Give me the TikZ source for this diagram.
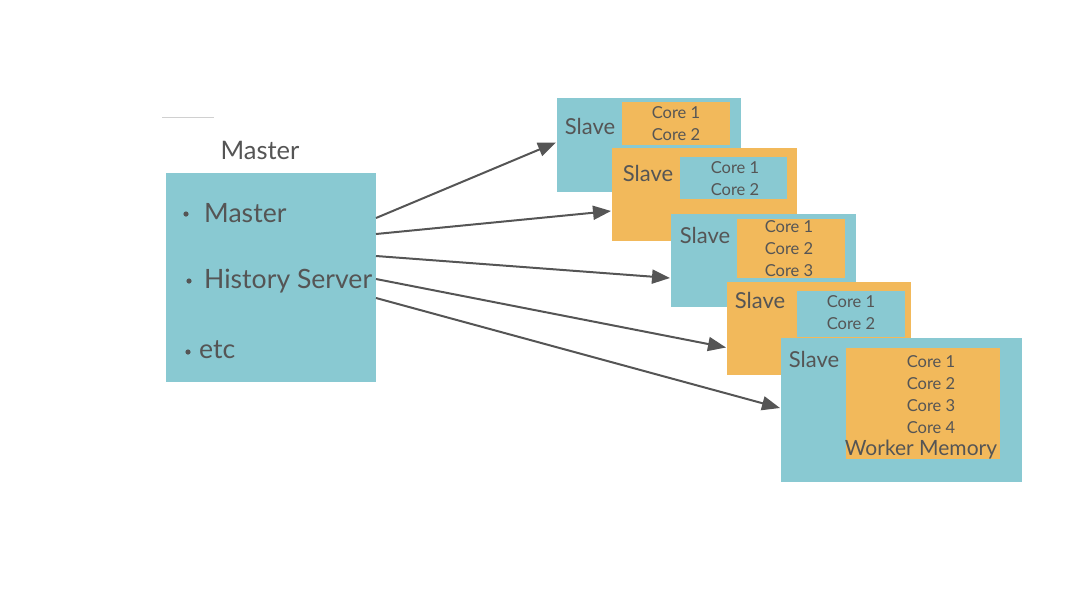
\documentclass[tikz,border=0pt]{standalone}
\usepackage{fontspec}
\setmainfont{Lato}
\usetikzlibrary{arrows.meta}
\definecolor{boxteal}{HTML}{89C9D2}
\definecolor{boxorange}{HTML}{F2B95B}
\definecolor{inkgray}{HTML}{555555}
\definecolor{rulegray}{HTML}{D0D0D0}
\begin{document}
\begin{tikzpicture}[x=1pt, y=-1pt, line join=round, >={Triangle[length=18pt,width=14pt]},
	box/.style={anchor=north west, inner sep=0pt, outer sep=0pt},
	tealbox/.style={box, fill=boxteal},
	orangebox/.style={box, fill=boxorange},
	big/.style={text=inkgray, font=\fontsize{26.6}{30}\selectfont, inner sep=0pt},
	slavelabel/.style={text=inkgray, font=\fontsize{22}{26}\selectfont, inner sep=0pt, anchor=base},
	cores/.style={text=inkgray, font=\fontsize{16.5}{22}\selectfont, inner sep=0pt, align=center},
	link/.style={->, draw=inkgray, line width=2pt}]
	\useasboundingbox (0,0) rectangle (1091,595);
	% master side
	\draw[rulegray, line width=1pt] (162,117) coordinate (r1) -- (214,117) coordinate (r2);
	\node[text=inkgray, font=\fontsize{25.5}{30}\selectfont, inner sep=0pt, anchor=base] (mtitle) at (260,159) {Master};
	\node[tealbox, minimum width=210pt, minimum height=209pt] (master) at (166,173) {};
	\foreach \b/\x/\y in {b1/186/214, b2/189/281, b3/188/352}
	\fill[inkgray] (\x,\y) circle (2.6pt) coordinate (\b);
	\node[big, anchor=base west] (m1) at (204,222) {Master};
	\node[big, anchor=base west] (m2) at (204,288) {History Server};
	\node[big, anchor=base west] (m3) at (199,358) {etc};
	% slaves
	\node[tealbox, minimum width=184pt, minimum height=94pt] (s1) at (557,98) {};
	\node[orangebox, minimum width=108pt, minimum height=43pt] (c1) at (622,102) {};
	\node[slavelabel] (l1) at (590,134) {Slave};
	\node[cores] (k1) at (676,124) {Core 1\\Core 2};
	\node[orangebox, minimum width=185pt, minimum height=93pt] (s2) at (612,148) {};
	\node[tealbox, minimum width=107pt, minimum height=42pt] (c2) at (680,157) {};
	\node[slavelabel] (l2) at (648,181) {Slave};
	\node[cores] (k2) at (735,179) {Core 1\\Core 2};
	\node[tealbox, minimum width=185pt, minimum height=93pt] (s3) at (671,214) {};
	\node[orangebox, minimum width=108pt, minimum height=59pt] (c3) at (737,219) {};
	\node[slavelabel] (l3) at (705,243) {Slave};
	\node[cores] (k3) at (789,249) {Core 1\\Core 2\\Core 3};
	\node[orangebox, minimum width=184pt, minimum height=93pt] (s4) at (727,282) {};
	\node[tealbox, minimum width=108pt, minimum height=46pt] (c4) at (797,291) {};
	\node[slavelabel] (l4) at (760,308) {Slave};
	\node[cores] (k4) at (851,313) {Core 1\\Core 2};
	\node[tealbox, minimum width=241pt, minimum height=144pt] (s5) at (781,338) {};
	\node[orangebox, minimum width=154pt, minimum height=111pt] (c5) at (846,348) {};
	\node[slavelabel] (l5) at (814,367) {Slave};
	\node[cores] (k5) at (931,395) {Core 1\\Core 2\\Core 3\\Core 4};
	\node[text=inkgray, font=\fontsize{21}{24}\selectfont, inner sep=0pt, anchor=base] (wm) at (921,455) {Worker Memory};
	% links
	\foreach \s/\from/\to in {s1/59.5/2.5, s2/43.5/-16.5, s3/21.5/-17.5, s4/-1.5/-19, s5/-20.5/2}
	\draw[link] ([yshift=\from]master.east) -- ([xshift=-1pt, yshift=\to]\s.west);
\end{tikzpicture}
\end{document}
